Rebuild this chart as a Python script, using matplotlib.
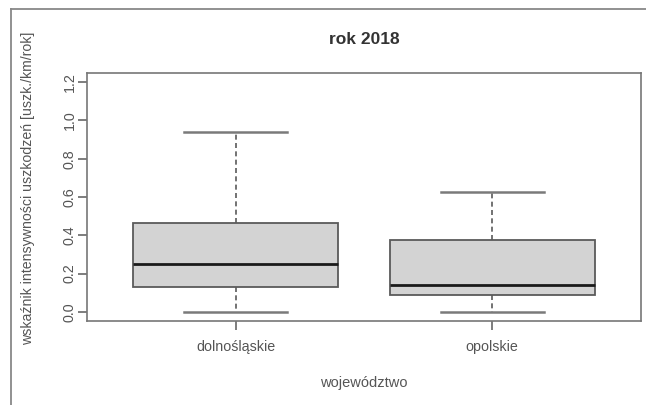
import matplotlib.pyplot as plt
from matplotlib.lines import Line2D

plt.rcParams['font.family'] = ['Liberation Sans', 'DejaVu Sans']

# summary statistics per voivodeship
regions = ["dolnośląskie", "opolskie"]
whisker_low = [0.0, 0.0]
quartile_1 = [0.132, 0.089]
medians = [0.251, 0.140]
quartile_3 = [0.465, 0.374]
whisker_high = [0.938, 0.625]
y_ticks = [0.0, 0.2, 0.4, 0.6, 0.8, 1.0, 1.2]

txt = "#555555"
edge = "#5a5a5a"

fig = plt.figure(figsize=(6.46, 4.05), dpi=100)
ax = fig.add_axes([87 / 646, 1 - 321 / 405, (641 - 87) / 646, (321 - 73) / 405])

stats = []
for i, name in enumerate(regions):
    stats.append(dict(label=name, whislo=whisker_low[i], q1=quartile_1[i],
                      med=medians[i], q3=quartile_3[i], whishi=whisker_high[i],
                      fliers=[]))

ax.bxp(stats, positions=[1, 2], widths=0.8, patch_artist=True, showfliers=False,
       boxprops=dict(facecolor="#d3d3d3", edgecolor=edge, linewidth=1.3),
       medianprops=dict(color="#1a1a1a", linewidth=2.0),
       whiskerprops=dict(color=edge, linewidth=1.2, linestyle=(0, (3, 2))),
       capprops=dict(color="#7a7a7a", linewidth=1.8),
       capwidths=0.4)

ax.set_xlim(0.42, 2.58)
ax.set_ylim(-0.048, 1.248)
ax.set_yticks(y_ticks)
ax.set_yticklabels([f"{v:.1f}" for v in y_ticks], rotation=90, va="center")
ax.set_xticks([1, 2])
ax.set_xticklabels(regions)
ax.tick_params(colors=edge, labelcolor=txt, labelsize=10.3, length=6.5, width=1.1)
ax.tick_params(axis="y", pad=1)
ax.tick_params(axis="x", pad=7)
for s in ax.spines.values():
    s.set_color("#777777")
    s.set_linewidth(1.2)

ax.set_title("rok 2018", fontsize=12.5, fontweight="bold", color="#333333", pad=21)
ax.set_xlabel("województwo", fontsize=10.5, color=txt, labelpad=16)
fig.text(28 / 646, 1 - 188 / 405, "wskaźnik intensywności uszkodzeń [uszk./km/rok]",
         rotation=90, ha="center", va="center", fontsize=10.2, color=txt)

# outer frame around the figure
fig.add_artist(Line2D([11 / 646, 11 / 646], [0, 1 - 9 / 405], color="#888888", lw=1.3))
fig.add_artist(Line2D([11 / 646, 1], [1 - 9 / 405, 1 - 9 / 405], color="#888888", lw=1.3))

fig.savefig("out.png", dpi=100)
